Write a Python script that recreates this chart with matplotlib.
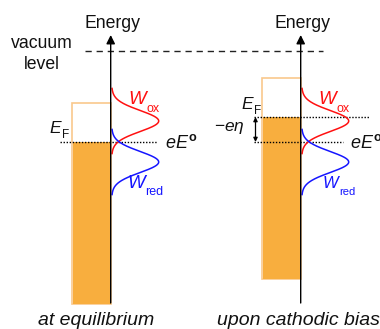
import numpy as np
import matplotlib
matplotlib.use("Agg")
import matplotlib.pyplot as plt
from matplotlib.patches import Rectangle

plt.rcParams['font.family'] = ['Liberation Sans', 'DejaVu Sans']
plt.rcParams['mathtext.fontset'] = 'custom'
plt.rcParams['mathtext.rm'] = 'Liberation Sans'
plt.rcParams['mathtext.it'] = 'Liberation Sans:italic'
plt.rcParams['mathtext.bf'] = 'Liberation Sans:bold'

# Energy levels (arbitrary units, E° of the redox couple = 0)
panel_titles = ["at equilibrium", "upon cathodic bias"]
vacuum_level = 9.1
fermi_levels = [0.0, 2.5]          # electrode Fermi level per panel
band_above_fermi = 3.9             # empty states above E_F
band_depth = 16.2                  # filled states below E_F
redox_level = 0.0                  # eE°
ox_center, red_center = 2.1, -2.0  # centres of W_ox and W_red
dos_width = 1.05
dos_amplitude = 4.7
axis_top, axis_bottom = 10.7, -16.1

FILL = '#F8AE3E'
EDGE = '#F9C88C'
RED = '#FF1010'
BLUE = '#1515FF'
INK = '#111111'

fig = plt.figure(figsize=(3.80, 3.29), dpi=100)
ax = fig.add_axes([0, 0, 1, 1])
ax.set_xlim(0, 38)
ax.set_ylim(-18.7, 14.2)
ax.axis('off')
renderer = fig.canvas.get_renderer()


def sub_label(x, y, main, sub, size, subsize, drop, color=INK):
    """Italic symbol with an upright subscript placed right after it."""
    t = ax.text(x, y, main, fontsize=size, style='italic', color=color,
                ha='left', va='baseline')
    bb = t.get_window_extent(renderer)
    x_right = ax.transData.inverted().transform((bb.x1, bb.y0))[0]
    ax.text(x_right + 0.05, y - drop, sub, fontsize=subsize, color=color,
            ha='left', va='baseline')


axis_x = [11.07, 30.07]
band_w = 3.9

# vacuum level
ax.plot([8.5, 32.3], [vacuum_level] * 2, color='#222222', lw=1.0,
        dashes=(4.5, 3.5))
ax.text(4.2, 8.8, "vacuum\nlevel", ha='center', va='center',
        fontsize=12.7, linespacing=1.25, color=INK)

for i, ef in enumerate(fermi_levels):
    xa = axis_x[i]
    top = ef + band_above_fermi
    bottom = ef - band_depth
    # electrode band: outline of all states, filled up to E_F
    ax.add_patch(Rectangle((xa - band_w, bottom), band_w, top - bottom,
                           facecolor='none', edgecolor=EDGE, lw=1.2, zorder=2))
    ax.add_patch(Rectangle((xa - band_w + 0.08, bottom), band_w - 0.08,
                           ef - bottom, facecolor=FILL, edgecolor='none',
                           zorder=2))
    # energy axis
    ax.annotate('', xy=(xa, axis_top), xytext=(xa, axis_bottom),
                arrowprops=dict(arrowstyle='-|>', mutation_scale=13,
                                lw=1.0, color='black', shrinkA=0, shrinkB=0),
                zorder=5)
    ax.text(xa + 0.15, 11.43, "Energy", ha='center', va='baseline',
            fontsize=12.7, color=INK)

    # distributions of oxidised and reduced states
    eo = np.linspace(ox_center - 3.1 * dos_width, ox_center + 3.1 * dos_width, 200)
    er = np.linspace(red_center - 3.1 * dos_width, red_center + 3.1 * dos_width, 200)
    wox = dos_amplitude * np.exp(-(eo - ox_center) ** 2 / (2 * dos_width ** 2))
    wred = dos_amplitude * np.exp(-(er - red_center) ** 2 / (2 * dos_width ** 2))
    ax.plot(xa + 0.1 + wox, eo, color=RED, lw=1.1, zorder=4)
    ax.plot(xa + 0.1 + wred, er, color=BLUE, lw=1.1, zorder=4)

    sub_label(xa + 1.75, 3.8, 'W', 'ox', 13.5, 9, 0.75, RED)
    if i == 0:
        sub_label(xa + 1.65, -4.6, 'W', 'red', 13.5, 9, 0.7, BLUE)
    else:
        sub_label(xa + 2.2, -4.6, 'W', 'red', 12, 8, 0.7, BLUE)

    # title under panel
    if i == 0:
        ax.text(9.65, -18.3, panel_titles[i], ha='center', va='baseline',
                fontsize=14, style='italic', color=INK)
    else:
        ax.text(21.7, -18.3, panel_titles[i], ha='left', va='baseline',
                fontsize=14, style='italic', color=INK)

# left panel: E_F coincides with eE°
ax.plot([6.0, 15.7], [redox_level] * 2, color='black', lw=1.0, ls=(0, (1, 1.2)))
sub_label(4.95, 0.9, 'E', 'F', 12.5, 8.5, 0.5)
ax.text(16.5, -0.55, r'$eE^{\mathbf{o}}$', fontsize=13, ha='left',
        va='baseline', color=INK)

# right panel: E_F raised by -eη
ax.plot([25.4, 37.0], [fermi_levels[1]] * 2, color='black', lw=1.0,
        ls=(0, (1, 1.2)))
ax.plot([25.4, 34.3], [redox_level] * 2, color='black', lw=1.0,
        ls=(0, (1, 1.2)))
sub_label(24.15, 3.3, 'E', 'F', 12.5, 8.5, 0.5)
ax.annotate('', xy=(25.55, fermi_levels[1]), xytext=(25.55, redox_level),
            arrowprops=dict(arrowstyle='<|-|>', mutation_scale=6, lw=0.9,
                            color='black', shrinkA=0, shrinkB=0))
ax.text(24.5, 1.05, r'$-e\eta$', fontsize=12.5, ha='right', va='baseline',
        color=INK)
ax.text(35.0, -0.55, r'$eE^{\mathbf{o}}$', fontsize=13, ha='left',
        va='baseline', color=INK)

fig.savefig('out.png', dpi=100)
